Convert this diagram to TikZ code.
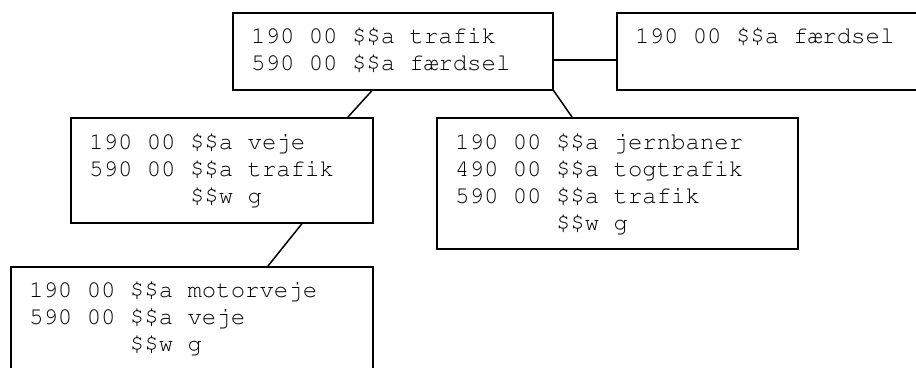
\documentclass[tikz,border=0pt]{standalone}
\usepackage[T1]{fontenc}
\usetikzlibrary{calc}
\tikzset{
  recbox/.style={draw=black, line width=1.6pt, fill=white, inner sep=0pt, anchor=north west},
  rectext/.style={font=\fontencoding{T1}\fontfamily{pcr}\fontsize{24}{27}\selectfont, align=left, inner sep=0pt, anchor=base west, text=black},
  link/.style={draw=black, line width=1.5pt}
}
\begin{document}
\begin{tikzpicture}[x=1pt, y=-1pt]
\useasboundingbox (0,0) rectangle (916,367);
\clip (0,0) rectangle (916,367);
% boxes
\node[recbox, minimum width=320pt, minimum height=77pt] (b1) at (232,12) {};
\node[recbox, minimum width=330pt, minimum height=77pt] (b2) at (616,12) {};
\node[recbox, minimum width=302pt, minimum height=105pt] (b3) at (70,117) {};
\node[recbox, minimum width=361pt, minimum height=131pt] (b4) at (436,117) {};
\node[recbox, minimum width=362pt, minimum height=130pt] (b5) at (10,266) {};
% texts (anchor = baseline of last line)
\node[rectext] (t1) at ([shift={(19,58)}]b1.north west) {190 00 \$\$a trafik\\590 00 \$\$a f{\ae}rdsel};
\node[rectext] (t2) at ([shift={(19,31)}]b2.north west) {190 00 \$\$a f{\ae}rdsel};
\node[rectext] (t3) at ([shift={(19,86)}]b3.north west) {190 00 \$\$a veje\\590 00 \$\$a trafik\\\phantom{590 00 }\$\$w g};
\node[rectext] (t4) at ([shift={(19,113)}]b4.north west) {190 00 \$\$a jernbaner\\490 00 \$\$a togtrafik\\590 00 \$\$a trafik\\\phantom{590 00 }\$\$w g};
\node[rectext] (t5) at ([shift={(19,85)}]b5.north west) {190 00 \$\$a motorveje\\590 00 \$\$a veje\\\phantom{590 00 }\$\$w g};
% connector points
\coordinate (c1a) at ($(b1.north east)+(0,48)$);
\coordinate (c1b) at ($(b2.north west)+(0,48)$);
\coordinate (c2a) at ($(b1.south west)+(140,0)$);
\coordinate (c2b) at ($(b3.north west)+(278,0)$);
\coordinate (c3b) at ($(b4.north west)+(136,0)$);
\coordinate (c4a) at ($(b3.south west)+(232,0)$);
\coordinate (c4b) at ($(b5.north west)+(258,0)$);
% connectors
\draw[link] (c1a) -- (c1b);
\draw[link] (c2a) -- (c2b);
\draw[link] (b1.south east) -- (c3b);
\draw[link] (c4a) -- (c4b);
\end{tikzpicture}
\end{document}
